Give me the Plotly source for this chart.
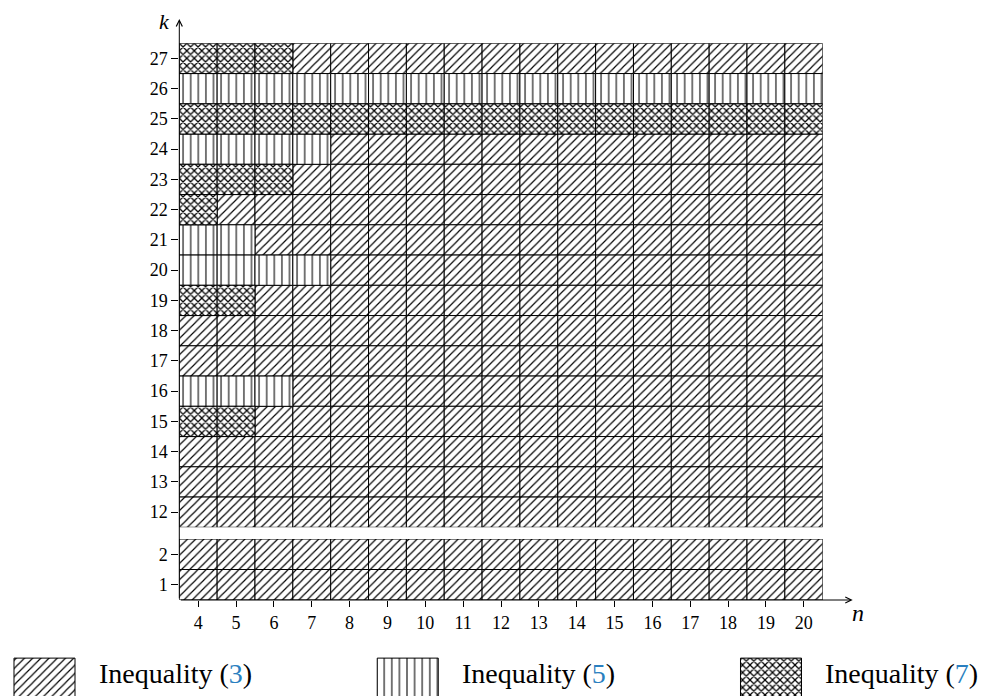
import plotly.graph_objects as go

# ---------------- data ----------------
n_values = list(range(4, 21))
k_upper = [27, 26, 25, 24, 23, 22, 21, 20, 19, 18, 17, 16, 15, 14, 13, 12]
k_lower = [2, 1]
# inequality number used in each cell, for n = 4..20 (one string per row k)
codes_upper = [
    "77733333333333333",  # 27
    "55555555555555555",  # 26
    "77777777777777777",  # 25
    "55553333333333333",  # 24
    "77733333333333333",  # 23
    "73333333333333333",  # 22
    "55333333333333333",  # 21
    "55553333333333333",  # 20
    "77333333333333333",  # 19
    "33333333333333333",  # 18
    "33333333333333333",  # 17
    "55533333333333333",  # 16
    "77333333333333333",  # 15
    "33333333333333333",  # 14
    "33333333333333333",  # 13
    "33333333333333333",  # 12
]
codes_lower = [
    "33333333333333333",  # 2
    "33333333333333333",  # 1
]
ineq_ids = ["3", "5", "7"]
legend_labels = ["Inequality (3)", "Inequality (5)", "Inequality (7)"]
legend_values = [1, 1, 1]

# ---------------- styles ----------------
OFF = 8                      # page body margin
W, H = 992 - OFF, 696 - OFF  # figure size fitting the window
FONT = "Liberation Serif"
pattern_style = {
    "3": dict(shape="/", size=5.8, solidity=0.2),
    "5": dict(shape="|", size=7.6, solidity=0.14),
    "7": dict(shape="x", size=5.3, solidity=0.42),
}
CITE_BLUE = "#2a7fc0"


def PX(x):   # page pixel -> paper x
    return (x - OFF) / W


def PY(y):   # page pixel -> paper y
    return 1 - (y - OFF) / H


def marker_for(i):
    p = pattern_style[i]
    return dict(
        color="white",
        line=dict(color="black", width=1),
        pattern=dict(shape=p["shape"], size=p["size"], solidity=p["solidity"],
                     fgcolor="black", bgcolor="white", fillmode="replace"),
    )


fig = go.Figure()


def add_cells(ks, codes, yref):
    for i in ineq_ids:
        xs, hs, bs = [], [], []
        for k, row in zip(ks, codes):
            for n, c in zip(n_values, row):
                if c == i:
                    xs.append(n)
                    hs.append(1)
                    bs.append(k - 0.5)
        if xs:
            fig.add_trace(go.Bar(
                x=xs, y=hs, base=bs, width=1,
                marker=marker_for(i), xaxis="x", yaxis=yref,
                showlegend=False, hoverinfo="skip",
            ))


add_cells(k_upper, codes_upper, "y")
add_cells(k_lower, codes_lower, "y2")

# legend swatches (drawn as bars in a hidden strip at the bottom)
for i, lab, v in zip(ineq_ids, legend_labels, legend_values):
    fig.add_trace(go.Bar(
        x=[lab], y=[v], width=0.168, marker=marker_for(i),
        xaxis="x3", yaxis="y3", showlegend=False, hoverinfo="skip",
    ))

tickfont = dict(family=FONT, size=18, color="black")
XL, XR = 179.3, 822.7
LEG_C0, LEG_STEP = 44.5 - OFF, 363.25

fig.update_layout(
    width=W, height=H, autosize=False,
    margin=dict(l=0, r=0, t=0, b=0),
    paper_bgcolor="white", plot_bgcolor="white",
    barmode="overlay", showlegend=False,
    xaxis=dict(domain=[PX(XL), PX(XR)], range=[3.5, 20.5], anchor="y2",
               tickmode="array", tickvals=n_values, ticks="outside",
               ticklen=6, tickcolor="black", tickwidth=1,
               showgrid=False, zeroline=False, showline=False,
               tickfont=tickfont),
    yaxis=dict(domain=[PY(527.3), PY(43.3)], range=[11.5, 27.5],
               anchor="x", tickmode="array", tickvals=k_upper,
               ticks="outside", ticklen=7, tickcolor="black", tickwidth=1,
               showgrid=False, zeroline=False, showline=False,
               tickfont=tickfont),
    yaxis2=dict(domain=[PY(600), PY(539)], range=[0.5, 2.5],
                anchor="x", tickmode="array", tickvals=k_lower,
                ticks="outside", ticklen=7, tickcolor="black", tickwidth=1,
                showgrid=False, zeroline=False, showline=False,
                tickfont=tickfont),
    xaxis3=dict(domain=[0, 1], anchor="y3", type="category",
                categoryorder="array", categoryarray=legend_labels,
                range=[-LEG_C0 / LEG_STEP, (W - LEG_C0) / LEG_STEP],
                visible=False),
    yaxis3=dict(domain=[0, PY(650)], range=[0.02, 1.21], visible=False),
)

# axis arrows (offsets of the tail in pixels)
fig.add_annotation(x=PX(XL), y=PY(19), xref="paper", yref="paper",
                   ax=0, ay=600 - 19, axref="pixel", ayref="pixel",
                   text="", showarrow=True, arrowhead=5, arrowsize=1.2,
                   arrowwidth=1, arrowcolor="black", standoff=0, startstandoff=0)
fig.add_annotation(x=PX(852.7), y=PY(600), xref="paper", yref="paper",
                   ax=-(852.7 - XL), ay=0, axref="pixel", ayref="pixel",
                   text="", showarrow=True, arrowhead=5, arrowsize=1.2,
                   arrowwidth=1, arrowcolor="black", standoff=0, startstandoff=0)
fig.add_annotation(x=PX(164), y=1, xref="paper", yref="paper",
                   xanchor="center", yanchor="top", borderpad=0,
                   text="<i>k</i>", showarrow=False,
                   font=dict(family=FONT, size=22, color="black"))
fig.add_annotation(x=PX(858), y=PY(613), xref="paper", yref="paper",
                   xanchor="center", yanchor="middle",
                   text="<i>n</i>", showarrow=False,
                   font=dict(family=FONT, size=24, color="black"))

# legend texts
for i, lab in zip(ineq_ids, legend_labels):
    txt = lab.replace("(" + i + ")",
                      "(<span style='color:%s'>%s</span>)" % (CITE_BLUE, i))
    fig.add_annotation(x=lab, xref="x3", xshift=52, xanchor="left",
                       y=PY(673), yref="paper", yanchor="middle",
                       text=txt, showarrow=False,
                       font=dict(family=FONT, size=28, color="black"))

fig.write_html("out.html")
